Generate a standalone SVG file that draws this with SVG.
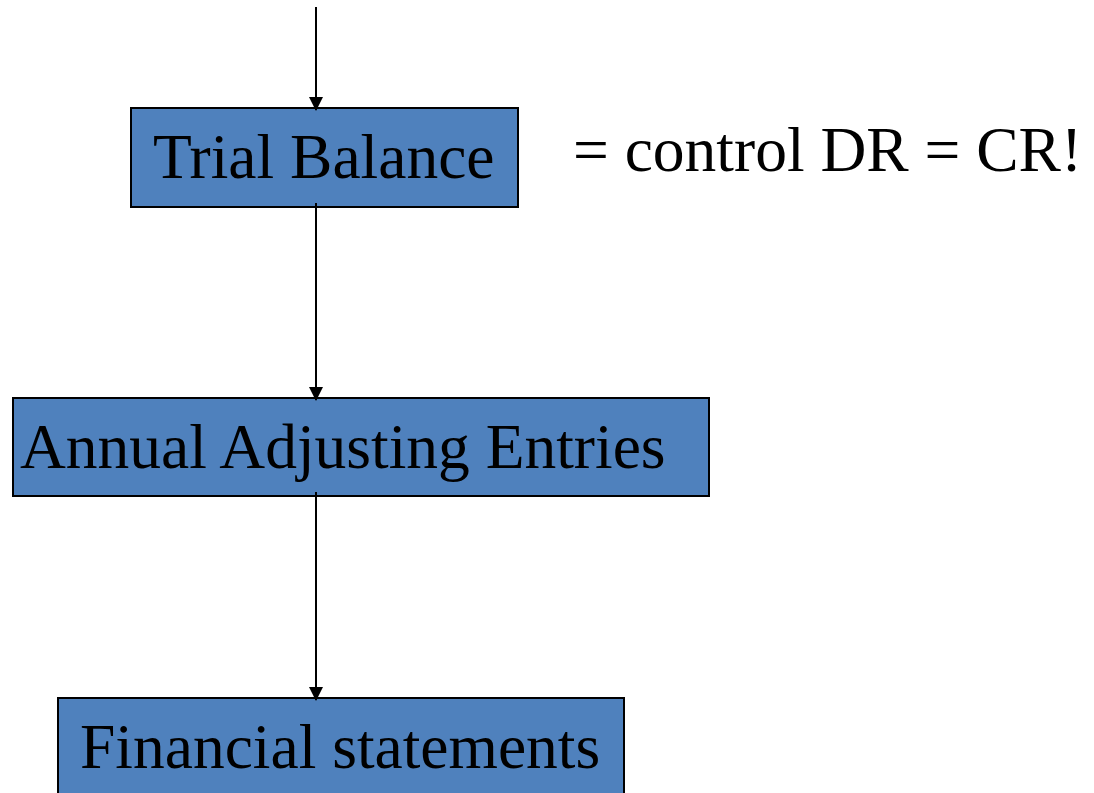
<svg xmlns="http://www.w3.org/2000/svg" width="1094" height="793" viewBox="0 0 1094 793">
  <style>
    .box { fill: #4F81BD; stroke: #000; stroke-width: 2; }
    .label { font-family: "Liberation Serif", "Times New Roman", serif; font-size: 63.5px; fill: #000; }
    .flow { stroke: #000; stroke-width: 2; fill: none; marker-end: url(#arrow); }
  </style>
  <defs>
    <marker id="arrow" markerUnits="userSpaceOnUse" markerWidth="16" markerHeight="14" refX="8" refY="13" orient="0" viewBox="0 0 16 14">
      <path d="M1,0 L15,0 L8,14 Z" fill="#000"/>
    </marker>
  </defs>

  <rect width="1094" height="793" fill="#fff"/>

  <g id="trial-balance">
    <rect class="box" x="131" y="108" width="387" height="99"/>
    <text class="label" x="153" y="178">Trial Balance</text>
  </g>

  <g id="control-note">
    <text class="label" x="573" y="171">= control DR = CR!</text>
  </g>

  <g id="annual-adjusting-entries">
    <rect class="box" x="13" y="398" width="696" height="98"/>
    <text class="label" x="20" y="468">Annual Adjusting Entries</text>
  </g>

  <g id="financial-statements">
    <rect class="box" x="58" y="698" width="566" height="120"/>
    <text class="label" x="80" y="768">Financial statements</text>
  </g>

  <g id="connectors">
    <line class="flow" x1="316" y1="7" x2="316" y2="110"/>
    <line class="flow" x1="316" y1="203" x2="316" y2="400"/>
    <line class="flow" x1="316" y1="492" x2="316" y2="700"/>
  </g>
</svg>
